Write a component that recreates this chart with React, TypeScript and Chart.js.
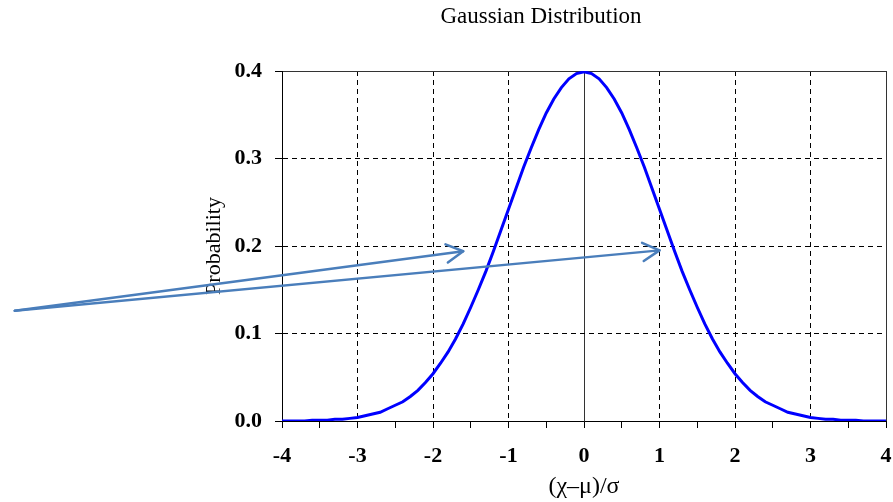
import React, { useEffect, useRef } from 'react';
import { Chart, registerables } from 'chart.js';

Chart.register(...registerables);

const chartTitle = 'Gaussian Distribution';
const xAxisTitle = '(χ–μ)/σ';
const yAxisTitle = 'Probability';

const xValues = [
  -4.0, -3.9, -3.8, -3.7, -3.6, -3.5, -3.4, -3.3, -3.2, -3.1,
  -3.0, -2.9, -2.8, -2.7, -2.6, -2.5, -2.4, -2.3, -2.2, -2.1,
  -2.0, -1.9, -1.8, -1.7, -1.6, -1.5, -1.4, -1.3, -1.2, -1.1,
  -1.0, -0.9, -0.8, -0.7, -0.6, -0.5, -0.4, -0.3, -0.2, -0.1,
  0.0, 0.1, 0.2, 0.3, 0.4, 0.5, 0.6, 0.7, 0.8, 0.9,
  1.0, 1.1, 1.2, 1.3, 1.4, 1.5, 1.6, 1.7, 1.8, 1.9,
  2.0, 2.1, 2.2, 2.3, 2.4, 2.5, 2.6, 2.7, 2.8, 2.9,
  3.0, 3.1, 3.2, 3.3, 3.4, 3.5, 3.6, 3.7, 3.8, 3.9, 4.0,
];
const probability = [
  0.000, 0.000, 0.000, 0.000, 0.001, 0.001, 0.001, 0.002, 0.002, 0.003,
  0.004, 0.006, 0.008, 0.010, 0.014, 0.018, 0.022, 0.028, 0.035, 0.044,
  0.054, 0.066, 0.079, 0.094, 0.111, 0.130, 0.150, 0.171, 0.194, 0.218,
  0.242, 0.266, 0.290, 0.312, 0.333, 0.352, 0.368, 0.381, 0.391, 0.397,
  0.399, 0.397, 0.391, 0.381, 0.368, 0.352, 0.333, 0.312, 0.290, 0.266,
  0.242, 0.218, 0.194, 0.171, 0.150, 0.130, 0.111, 0.094, 0.079, 0.066,
  0.054, 0.044, 0.035, 0.028, 0.022, 0.018, 0.014, 0.010, 0.008, 0.006,
  0.004, 0.003, 0.002, 0.002, 0.001, 0.001, 0.001, 0.000, 0.000, 0.000, 0.000,
];

// annotation arrows, in data units (shared start, two tips)
const arrowStart = { x: -7.54, y: 0.126 };
const arrowTips = [
  { x: -1.6, y: 0.194 },
  { x: 1.0, y: 0.195 },
];

const arrowPlugin = {
  id: 'arrows',
  afterDatasetsDraw(chart: any) {
    const { ctx, scales } = chart;
    const xs = scales.x;
    const ys = scales.y;
    const sx = xs.getPixelForValue(arrowStart.x);
    const sy = ys.getPixelForValue(arrowStart.y);
    ctx.save();
    ctx.strokeStyle = '#4a7ebb';
    ctx.lineWidth = 2.5;
    ctx.lineCap = 'round';
    ctx.lineJoin = 'round';
    for (const tip of arrowTips) {
      const tx = xs.getPixelForValue(tip.x);
      const ty = ys.getPixelForValue(tip.y);
      const ang = Math.atan2(ty - sy, tx - sx);
      const len = 19;
      const spread = 0.5;
      ctx.beginPath();
      ctx.moveTo(sx, sy);
      ctx.lineTo(tx, ty);
      ctx.stroke();
      ctx.beginPath();
      ctx.moveTo(tx - len * Math.cos(ang - spread), ty - len * Math.sin(ang - spread));
      ctx.lineTo(tx, ty);
      ctx.lineTo(tx - len * Math.cos(ang + spread), ty - len * Math.sin(ang + spread));
      ctx.stroke();
    }
    ctx.restore();
  },
};

export default function App() {
  const ref = useRef<HTMLCanvasElement>(null);

  useEffect(() => {
    if (!ref.current) return;
    const serif = "'Liberation Serif', 'Times New Roman', serif";
    const isEdgeX = (v: number) => v === 0 || v === -4 || v === 4;
    const isEdgeY = (v: number) => Math.abs(v - 0.4) < 1e-9 || Math.abs(v) < 1e-9;
    const chart = new Chart(ref.current, {
      type: 'line',
      data: {
        datasets: [
          {
            label: 'Gaussian',
            data: xValues.map((x, i) => ({ x, y: probability[i] })),
            borderColor: '#0000ff',
            borderWidth: 3,
            pointRadius: 0,
            tension: 0,
            fill: false,
          },
        ],
      },
      options: {
        animation: false,
        responsive: false,
        events: [],
        layout: { padding: { left: 196, right: 7, top: 0, bottom: 0 } },
        plugins: {
          legend: { display: false },
          tooltip: { enabled: false },
          title: {
            display: true,
            text: chartTitle,
            color: '#000',
            font: { family: serif, size: 23, weight: 'normal' },
            padding: { top: 3.2, bottom: 40.2 },
          },
        },
        scales: {
          x: {
            type: 'linear',
            min: -4,
            max: 4,
            afterFit: (s: any) => {
              s.height = 81;
              s.paddingLeft = 0;
              s.paddingRight = 0;
            },
            ticks: {
              stepSize: 0.5,
              autoSkip: false,
              maxRotation: 0,
              padding: 14.8,
              color: '#000',
              font: { family: serif, size: 22, weight: 'bold' },
              callback: (v: any) => (Number.isInteger(Number(v)) ? String(v) : ''),
            },
            grid: {
              color: (c: any) => {
                const v = c.tick ? c.tick.value : 0;
                if (!Number.isInteger(v)) return 'rgba(0,0,0,0)';
                return isEdgeX(v) ? '#333' : '#000';
              },
              lineWidth: 1,
              tickLength: 7,
              tickColor: '#000',
              tickWidth: 1,
            },
            border: {
              display: true,
              color: '#000',
              width: 1,
              dash: (c: any) => {
                const v = c.tick ? c.tick.value : 0;
                return isEdgeX(v) ? [] : [5, 4];
              },
            },
            title: {
              display: true,
              text: xAxisTitle,
              color: '#000',
              font: { family: serif, size: 24 },
              padding: { top: 0, bottom: 1 },
            },
          },
          y: {
            type: 'linear',
            min: 0,
            max: 0.4,
            afterFit: (s: any) => {
              s.width = 86;
            },
            ticks: {
              stepSize: 0.1,
              padding: 13,
              color: '#000',
              font: { family: serif, size: 22, weight: 'bold' },
              callback: (v: any) => Number(v).toFixed(1),
            },
            grid: {
              color: (c: any) => {
                const v = c.tick ? c.tick.value : 0;
                return isEdgeY(v) ? '#333' : '#000';
              },
              lineWidth: 1,
              tickLength: 7,
              tickColor: '#000',
              tickWidth: 1,
            },
            border: {
              display: true,
              color: '#000',
              width: 1,
              dash: (c: any) => {
                const v = c.tick ? c.tick.value : 0;
                return isEdgeY(v) ? [] : [5, 4];
              },
            },
            title: {
              display: true,
              text: yAxisTitle,
              color: '#000',
              font: { family: serif, size: 22 },
              padding: { top: 4.8, bottom: 0 },
            },
          },
        },
      },
      plugins: [arrowPlugin],
    } as any);
    return () => chart.destroy();
  }, []);

  return (
    <div style={{ position: 'absolute', left: 0, top: 0, width: 893, height: 502, background: '#fff' }}>
      <canvas ref={ref} width={893} height={502} style={{ display: 'block' }} />
    </div>
  );
}
